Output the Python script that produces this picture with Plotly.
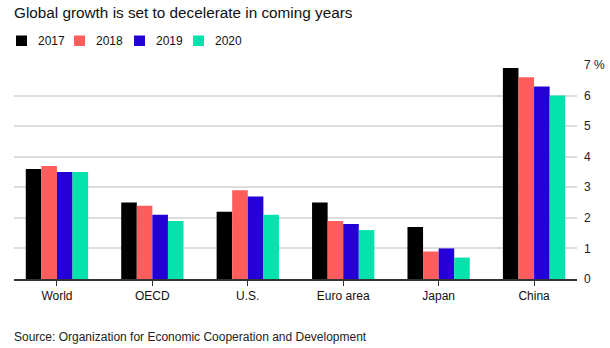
import plotly.graph_objects as go

# GDP growth forecasts by economy, percent
regions = ["World", "OECD", "U.S.", "Euro area", "Japan", "China"]
years = ["2017", "2018", "2019", "2020"]
growth_2017 = [3.6, 2.5, 2.2, 2.5, 1.7, 6.9]
growth_2018 = [3.7, 2.4, 2.9, 1.9, 0.9, 6.6]
growth_2019 = [3.5, 2.1, 2.7, 1.8, 1.0, 6.3]
growth_2020 = [3.5, 1.9, 2.1, 1.6, 0.7, 6.0]
series = [growth_2017, growth_2018, growth_2019, growth_2020]
colors = ["#000000", "#fd5e5c", "#2500d6", "#06e2ae"]

y_ticks = [0, 1, 2, 3, 4, 5, 6, 7]
y_tick_labels = ["0", "1", "2", "3", "4", "5", "6", "7 %"]

FONT = "Liberation Sans, Arial, sans-serif"
W, H = 610, 348
ML, MR, MT, MB = 14, 33, 65, 69
PW, PH = W - ML - MR, H - MT - MB


def px_x(px):
    """Pixel column -> paper x."""
    return (px - ML) / PW


def px_y(py):
    """Pixel row -> paper y."""
    return (H - MB - py) / PH


fig = go.Figure()
for year, values, color in zip(years, series, colors):
    fig.add_trace(go.Bar(
        x=regions, y=values, name=year,
        marker=dict(color=color, line=dict(width=0)),
        showlegend=False,
    ))

fig.update_layout(
    width=W, height=H,
    margin=dict(l=ML, r=MR, t=MT, b=MB, autoexpand=False),
    paper_bgcolor="white", plot_bgcolor="white",
    font=dict(family=FONT, size=12, color="#222"),
    barmode="group", bargap=0.347, bargroupgap=0,
    title=dict(
        text="Global growth is set to decelerate in coming years",
        font=dict(family=FONT, size=15.3, color="#111"),
        xref="container", yref="container",
        x=14 / W, xanchor="left", y=1 - 13 / H, yanchor="middle",
        pad=dict(l=0, t=0),
    ),
)

fig.update_xaxes(
    range=[-0.45, 5.45], automargin=False,
    showline=True, linecolor="#333", linewidth=1.5,
    ticks="outside", ticklen=5, tickcolor="#333", tickwidth=1,
    showgrid=False,
    tickfont=dict(family=FONT, size=12, color="#111"),
)

fig.update_yaxes(
    range=[0, 7], side="right", automargin=False,
    tickvals=y_ticks, ticktext=y_tick_labels,
    showgrid=True, gridcolor="#dddddd", gridwidth=1.5,
    zeroline=False, ticks="", ticklabelstandoff=6,
    tickfont=dict(family=FONT, size=12, color="#222"),
)

# Key: colour swatch followed by the year label
legend_left = [16, 74, 134, 193]
for left, year, color in zip(legend_left, years, colors):
    fig.add_shape(
        type="rect", xref="paper", yref="paper",
        x0=px_x(left), x1=px_x(left + 11),
        y0=px_y(46), y1=px_y(35.5),
        fillcolor=color, line=dict(width=0),
    )
    fig.add_annotation(
        text=year, xref="paper", yref="paper",
        x=px_x(left + 20), y=px_y(41),
        xanchor="left", yanchor="middle", showarrow=False,
        font=dict(family=FONT, size=12, color="#111"),
    )

fig.add_annotation(
    text="Source: Organization for Economic Cooperation and Development",
    xref="paper", yref="paper", x=px_x(12), y=px_y(337),
    xanchor="left", yanchor="middle", showarrow=False,
    font=dict(family=FONT, size=12, color="#222"),
)

fig.write_html("out.html")
